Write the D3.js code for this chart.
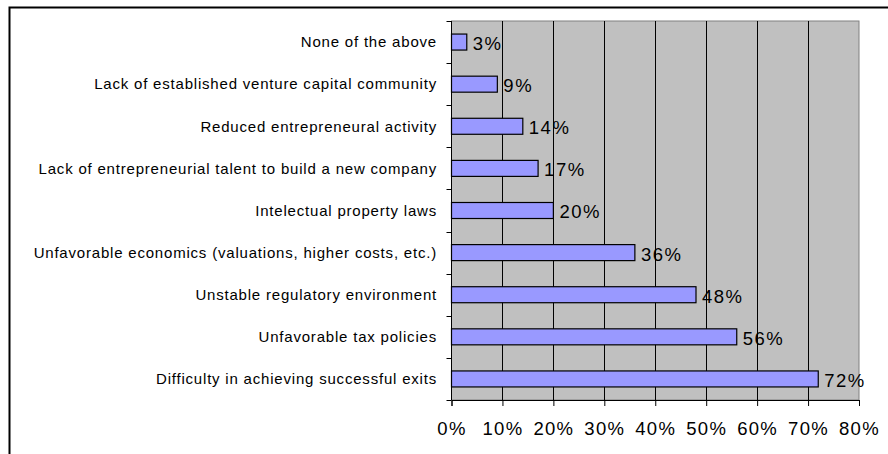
<!DOCTYPE html>
<html>
<head>
<meta charset="utf-8">
<script src="https://cdn.jsdelivr.net/npm/d3@7"></script>
<style>
  body { margin: 0; background: #fff; }
  svg { display: block; font-family: "Liberation Sans", Arial, sans-serif; }
  .cat-label { font-size: 15px; letter-spacing: 0.8px; fill: #000; }
  .val-label { font-size: 18.5px; letter-spacing: 1.5px; fill: #000; }
  .x-axis text { font-size: 18.5px; letter-spacing: 1.3px; fill: #000; }
</style>
</head>
<body>
<svg id="board" width="888" height="454"></svg>
<script>
// categories top to bottom, as shown
var categories = [
  'None of the above',
  'Lack of established venture capital community',
  'Reduced entrepreneural activity',
  'Lack of entrepreneurial talent to build a new company',
  'Intelectual property laws',
  'Unfavorable economics (valuations, higher costs, etc.)',
  'Unstable regulatory environment',
  'Unfavorable tax policies',
  'Difficulty in achieving successful exits'
];
var values = [3, 9, 14, 17, 20, 36, 48, 56, 72];
var xTicks = [0, 10, 20, 30, 40, 50, 60, 70, 80];

var plot = {left: 451.5, right: 859, top: 21, bottom: 400};

var svg = d3.select('#board');

// outer frame (runs off the right and bottom edges)
svg.append('path')
  .attr('d', 'M9.5,460 L9.5,7.5 L895,7.5')
  .attr('fill', 'none')
  .attr('stroke', '#000')
  .attr('stroke-width', 2);

var x = d3.scaleLinear().domain([0, 80]).range([plot.left, plot.right]);
var y = d3.scaleBand().domain(categories).range([plot.top, plot.bottom]).paddingInner(0.62).paddingOuter(0.31);
var yEdges = d3.scaleLinear().domain([0, categories.length]).range([plot.top, plot.bottom]);

svg.append('rect')
  .attr('x', plot.left)
  .attr('y', plot.top)
  .attr('width', plot.right - plot.left)
  .attr('height', plot.bottom - plot.top)
  .attr('fill', '#c0c0c0')
  .attr('stroke', '#808080')
  .attr('stroke-width', 1);

// vertical gridlines
svg.append('g').selectAll('line')
  .data(xTicks.slice(1, -1))
  .enter().append('line')
    .attr('x1', d => Math.round(x(d)) + 0.5)
    .attr('x2', d => Math.round(x(d)) + 0.5)
    .attr('y1', plot.top)
    .attr('y2', plot.bottom)
    .attr('stroke', '#000')
    .attr('stroke-width', 1);

// bars
svg.append('g').selectAll('rect')
  .data(values)
  .enter().append('rect')
    .attr('x', plot.left)
    .attr('y', (d, i) => y(categories[i]))
    .attr('width', d => x(d) - plot.left)
    .attr('height', y.bandwidth())
    .attr('fill', '#9999ff')
    .attr('stroke', '#000')
    .attr('stroke-width', 1.2);

// value labels
svg.append('g').selectAll('text')
  .data(values)
  .enter().append('text')
    .attr('class', 'val-label')
    .attr('x', d => x(d) + 6)
    .attr('y', (d, i) => y(categories[i]) + y.bandwidth() / 2 + 1.5)
    .attr('dy', '0.35em')
    .text(d => d + '%');

// y axis line + ticks at category edges
var yAxisG = svg.append('g');
yAxisG.append('line')
  .attr('x1', plot.left).attr('x2', plot.left)
  .attr('y1', plot.top).attr('y2', plot.bottom)
  .attr('stroke', '#000');
yAxisG.selectAll('.ytick')
  .data(d3.range(categories.length + 1))
  .enter().append('line')
    .attr('class', 'ytick')
    .attr('x1', plot.left - 5).attr('x2', plot.left)
    .attr('y1', d => Math.round(yEdges(d)) + 0.5)
    .attr('y2', d => Math.round(yEdges(d)) + 0.5)
    .attr('stroke', '#000');

// category labels
svg.append('g').selectAll('text')
  .data(categories)
  .enter().append('text')
    .attr('class', 'cat-label')
    .attr('x', 437)
    .attr('y', d => y(d) + y.bandwidth() / 2)
    .attr('dy', '0.35em')
    .attr('text-anchor', 'end')
    .text(d => d);

// x axis
var xAxis = d3.axisBottom(x)
  .tickValues(xTicks)
  .tickSize(6)
  .tickPadding(16)
  .tickFormat(d => d + '%');

var xAxisG = svg.append('g')
  .attr('class', 'x-axis')
  .attr('transform', 'translate(0,' + plot.bottom + ')')
  .call(xAxis);
xAxisG.select('.domain').attr('stroke', '#000');
xAxisG.selectAll('.tick line').attr('stroke', '#000');
xAxisG.selectAll('text').attr('font-family', null).attr('font-size', null);
</script>
</body>
</html>
